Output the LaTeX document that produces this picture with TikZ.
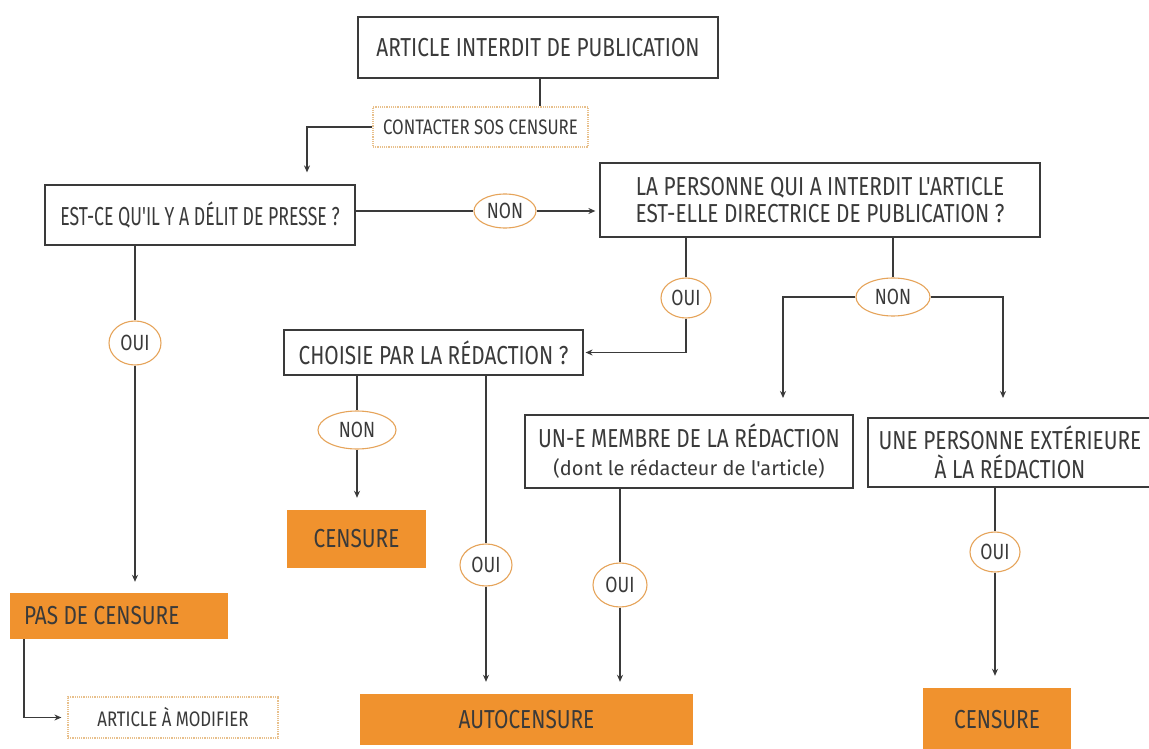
\documentclass[tikz,border=0pt]{standalone}
\usepackage{fontspec}
\newfontfamily\hand[FakeStretch=0.80]{Fira Sans}
\newfontfamily\handn[FakeStretch=0.68]{Fira Sans}
\newfontfamily\handw{Fira Sans}
\usetikzlibrary{shapes.geometric,arrows.meta}
\definecolor{ink}{HTML}{3A3A3A}
\definecolor{orfill}{HTML}{F0922E}
\definecolor{orline}{HTML}{E6A45A}
\definecolor{dotline}{HTML}{E8C08C}
\tikzset{
  box/.style={draw=ink, line width=1.2pt, fill=white, inner sep=2pt, align=center, text=ink, font=\hand\fontsize{26}{30}\selectfont},
  result/.style={fill=orfill, inner sep=2pt, align=center, text=ink, font=\hand\fontsize{26}{28}\selectfont},
  note/.style={draw=dotline, densely dotted, line width=1.2pt, fill=white, inner sep=2pt, align=center, text=ink, font=\hand\fontsize{21}{24}\selectfont},
  lab/.style={ellipse, draw=orline, line width=1.1pt, fill=white, inner sep=0pt, text=ink, font=\hand\fontsize{22}{24}\selectfont},
  conn/.style={draw=ink, line width=1.2pt},
  arr/.style={conn, -{Stealth[length=7pt,width=6pt]}},
}
\begin{document}
\begin{tikzpicture}[x=1pt,y=-1pt]
\useasboundingbox (0,0) rectangle (1149,749);
\fill[white] (0,0) rectangle (1149,749);
% boxes
\node[box, minimum width=360pt, minimum height=61pt] (top) at (538,47.5) {ARTICLE INTERDIT DE PUBLICATION};
\node[note, minimum width=215pt, minimum height=40pt] (contact) at (480.5,127) {CONTACTER SOS CENSURE};
\node[box, minimum width=310pt, minimum height=60pt, font=\handn\fontsize{26}{30}\selectfont] (estce) at (200,215) {EST-CE QU'IL Y A DÉLIT DE PRESSE ?};
\node[box, minimum width=440pt, minimum height=74pt, font=\hand\fontsize{26}{27}\selectfont] (pers) at (820,200) {LA PERSONNE QUI A INTERDIT L'ARTICLE\\EST-ELLE DIRECTRICE DE PUBLICATION ?};
\node[box, minimum width=299pt, minimum height=45pt] (choisie) at (433.5,352.5) {CHOISIE PAR LA RÉDACTION ?};
\node[box, minimum width=328pt, minimum height=73pt, font=\hand\fontsize{26}{28}\selectfont] (membre) at (689,451.5) {UN-E MEMBRE DE LA RÉDACTION\\{\handw\fontsize{20}{28}\selectfont (dont le rédacteur de l'article)}};
\node[box, minimum width=284pt, minimum height=69pt, font=\hand\fontsize{26}{29}\selectfont] (ext) at (1010,452.5) {UNE PERSONNE EXTÉRIEURE\\À LA RÉDACTION};
\node[result, minimum width=139pt, minimum height=58pt] (cens1) at (356.5,539) {CENSURE};
\node[result, minimum width=333pt, minimum height=51pt] (auto) at (526.5,719.5) {AUTOCENSURE};
\node[result, minimum width=148pt, minimum height=64pt] (cens2) at (997,720) {CENSURE};
\node[result, minimum width=218pt, minimum height=46pt] (pas) at (119,616) {\makebox[190pt][l]{PAS DE CENSURE}};
\node[note, minimum width=210pt, minimum height=41pt] (modif) at (173,717.5) {ARTICLE À MODIFIER};
% labels
\node[lab, minimum width=62pt, minimum height=34pt] (non1) at (505,211) {NON};
\node[lab, minimum width=50pt, minimum height=40pt] (oui1) at (686,298) {OUI};
\node[lab, minimum width=74pt, minimum height=38pt] (non2) at (893,297) {NON};
\node[lab, minimum width=78pt, minimum height=38pt] (non3) at (357,430) {NON};
\node[lab, minimum width=52pt, minimum height=42pt] (oui2) at (486,565) {OUI};
\node[lab, minimum width=54pt, minimum height=44pt] (oui3) at (620,585) {OUI};
\node[lab, minimum width=50pt, minimum height=40pt] (oui4) at (995,552) {OUI};
\node[lab, minimum width=52pt, minimum height=44pt] (oui5) at (135,343) {OUI};
% coordinates
\coordinate (m1) at (783,398);
\coordinate (m2) at (1003,398);
% connectors
\draw[conn] ([xshift=2pt]top.south) -- ([xshift=2pt]top.south |- contact.north);
\draw[arr, shorten >=12pt] (contact.west) -| ([xshift=107pt]estce.north);
\draw[conn] (non1.west -| estce.east) -- (non1.west);
\draw[arr, shorten >=4pt] (non1.east) -- (pers.west |- non1.east);
\draw[conn] ([xshift=-134pt]pers.south) -- (oui1.north);
\draw[arr, shorten >=2pt] (oui1.south) |- (choisie.east);
\draw[conn] ([xshift=73pt]pers.south) -- (non2.north);
\draw[arr] (non2.west) -| (m1);
\draw[arr] (non2.east) -| (m2);
\draw[conn] ([xshift=-76.5pt]choisie.south) -- (non3.north);
\draw[arr, shorten >=12pt] (non3.south) -- (non3.south |- cens1.north);
\draw[conn] ([xshift=52.5pt]choisie.south) -- (oui2.north);
\draw[arr, shorten >=12pt] (oui2.south) -- (oui2.south |- auto.north);
\draw[conn] ([xshift=-69pt]membre.south) -- (oui3.north);
\draw[arr, shorten >=12pt] (oui3.south) -- (oui3.south |- auto.north);
\draw[conn] ([xshift=-15pt]ext.south) -- (oui4.north);
\draw[arr, shorten >=12pt] (oui4.south) -- (oui4.south |- cens2.north);
\draw[conn] ([xshift=-65pt]estce.south) -- (oui5.north);
\draw[arr, shorten >=11pt] (oui5.south) -- (oui5.south |- pas.north);
\draw[arr, shorten >=6pt] ([xshift=-95pt]pas.south) |- (modif.west);
\end{tikzpicture}
\end{document}
